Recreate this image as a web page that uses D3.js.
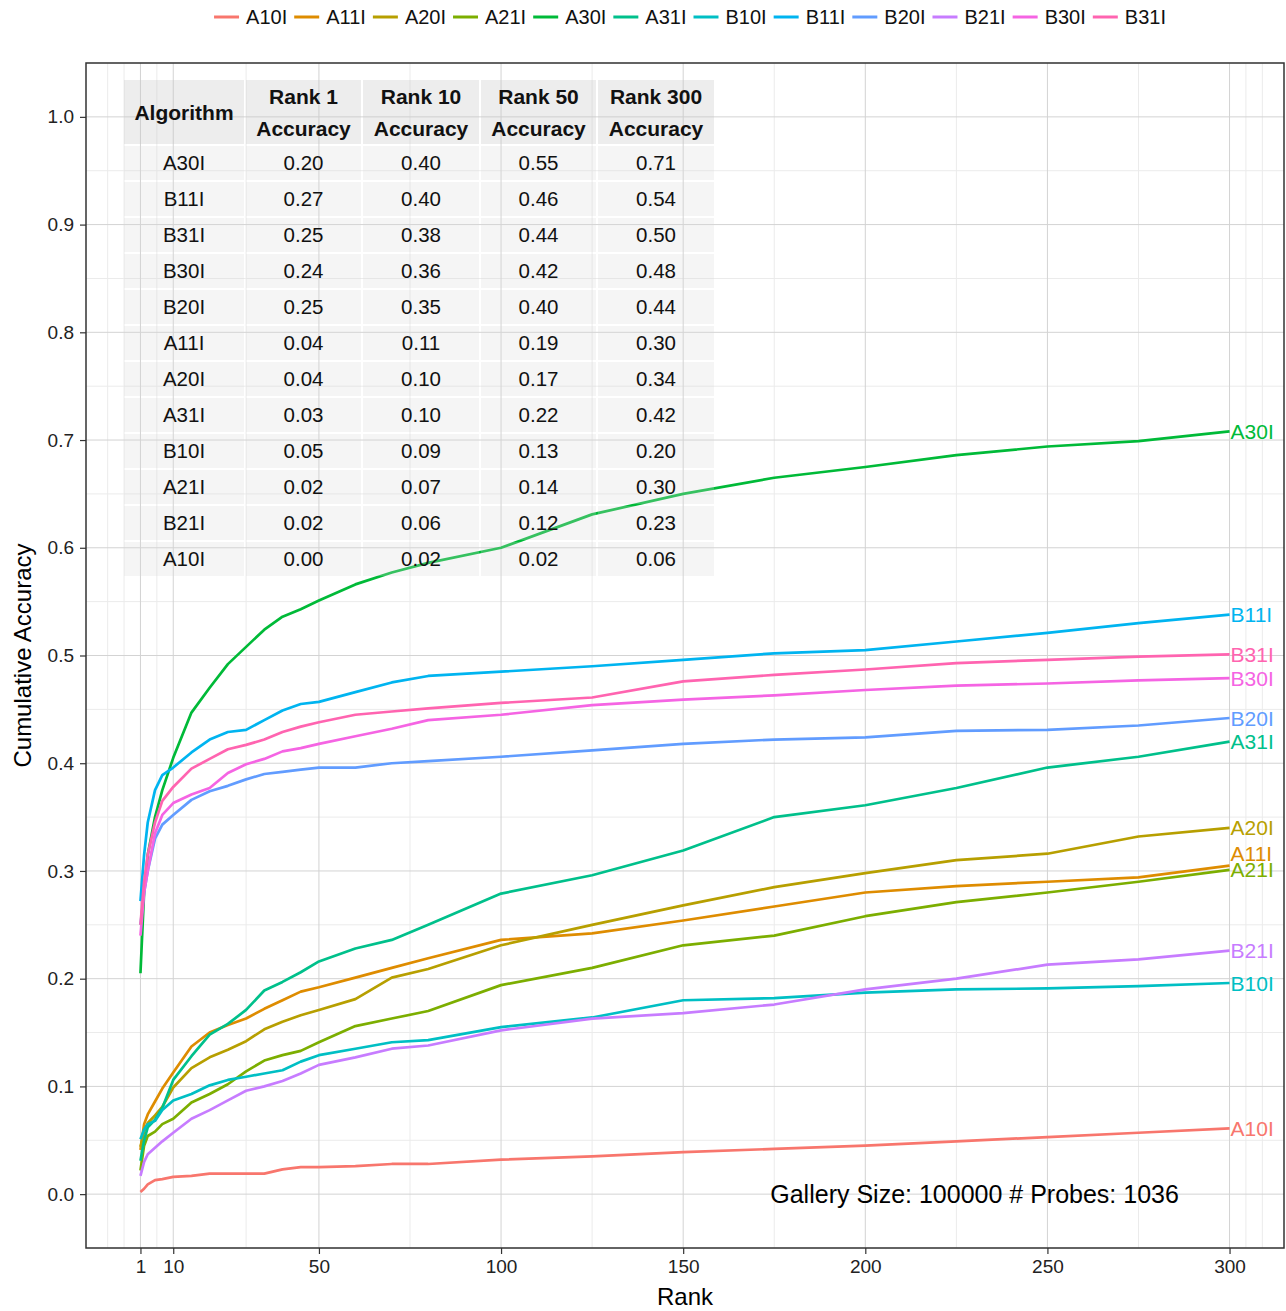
<!DOCTYPE html>
<html>
<head>
	<meta charset="UTF-8">
	<script src="https://d3js.org/d3.v7.min.js"></script>
	<title>Cumulative Accuracy</title>
	<style>
		body { margin: 0; background: #fff; }
		svg text { font-family: "Liberation Sans", Arial, Helvetica, sans-serif; }
	</style>
</head>
<body>
	<svg></svg>
	<script type="text/javascript">

		const ranks = [1, 2, 3, 5, 7, 10, 15, 20, 25, 30, 35, 40, 45, 50, 60, 70, 80, 100, 125, 150, 175, 200, 225, 250, 275, 300];

		const A10I = [0.002, 0.005, 0.009, 0.013, 0.014, 0.016, 0.017, 0.019, 0.019, 0.019, 0.019, 0.023, 0.025, 0.025, 0.026, 0.028, 0.028, 0.032, 0.035, 0.039, 0.042, 0.045, 0.049, 0.053, 0.057, 0.061];
		const A11I = [0.041, 0.065, 0.074, 0.086, 0.098, 0.113, 0.137, 0.150, 0.157, 0.163, 0.172, 0.180, 0.188, 0.192, 0.201, 0.210, 0.219, 0.236, 0.242, 0.254, 0.267, 0.280, 0.286, 0.290, 0.294, 0.305];
		const A20I = [0.044, 0.058, 0.066, 0.073, 0.081, 0.099, 0.117, 0.127, 0.134, 0.142, 0.153, 0.160, 0.166, 0.171, 0.181, 0.201, 0.209, 0.231, 0.250, 0.268, 0.285, 0.298, 0.310, 0.316, 0.332, 0.340];
		const A21I = [0.022, 0.045, 0.054, 0.058, 0.065, 0.070, 0.085, 0.093, 0.102, 0.114, 0.124, 0.129, 0.133, 0.141, 0.156, 0.163, 0.170, 0.194, 0.210, 0.231, 0.240, 0.258, 0.271, 0.280, 0.290, 0.301];
		const A30I = [0.205, 0.280, 0.315, 0.350, 0.375, 0.405, 0.447, 0.470, 0.492, 0.508, 0.524, 0.536, 0.543, 0.551, 0.566, 0.577, 0.586, 0.600, 0.631, 0.650, 0.665, 0.675, 0.686, 0.694, 0.699, 0.708];
		const A31I = [0.031, 0.050, 0.062, 0.069, 0.080, 0.106, 0.128, 0.148, 0.158, 0.171, 0.189, 0.197, 0.206, 0.216, 0.228, 0.236, 0.250, 0.279, 0.296, 0.319, 0.350, 0.361, 0.377, 0.396, 0.406, 0.420];
		const B10I = [0.051, 0.060, 0.065, 0.068, 0.078, 0.087, 0.093, 0.101, 0.106, 0.109, 0.112, 0.115, 0.123, 0.129, 0.135, 0.141, 0.143, 0.155, 0.164, 0.180, 0.182, 0.187, 0.190, 0.191, 0.193, 0.196];
		const B11I = [0.272, 0.315, 0.345, 0.375, 0.389, 0.396, 0.410, 0.422, 0.429, 0.431, 0.440, 0.449, 0.455, 0.457, 0.466, 0.475, 0.481, 0.485, 0.490, 0.496, 0.502, 0.505, 0.513, 0.521, 0.530, 0.538];
		const B20I = [0.250, 0.280, 0.300, 0.330, 0.343, 0.352, 0.366, 0.374, 0.379, 0.385, 0.390, 0.392, 0.394, 0.396, 0.396, 0.400, 0.402, 0.406, 0.412, 0.418, 0.422, 0.424, 0.430, 0.431, 0.435, 0.442];
		const B21I = [0.017, 0.030, 0.037, 0.043, 0.049, 0.057, 0.070, 0.078, 0.087, 0.096, 0.100, 0.105, 0.112, 0.120, 0.127, 0.135, 0.138, 0.152, 0.163, 0.168, 0.176, 0.190, 0.200, 0.213, 0.218, 0.226];
		const B30I = [0.240, 0.280, 0.300, 0.335, 0.352, 0.363, 0.371, 0.377, 0.391, 0.399, 0.404, 0.411, 0.414, 0.418, 0.425, 0.432, 0.440, 0.445, 0.454, 0.459, 0.463, 0.468, 0.472, 0.474, 0.477, 0.479];
		const B31I = [0.250, 0.290, 0.315, 0.345, 0.365, 0.378, 0.395, 0.404, 0.413, 0.417, 0.422, 0.429, 0.434, 0.438, 0.445, 0.448, 0.451, 0.456, 0.461, 0.476, 0.482, 0.487, 0.493, 0.496, 0.499, 0.501];

		const seriesNames = ["A10I", "A11I", "A20I", "A21I", "A30I", "A31I", "B10I", "B11I", "B20I", "B21I", "B30I", "B31I"];
		const seriesValues = [A10I, A11I, A20I, A21I, A30I, A31I, B10I, B11I, B20I, B21I, B30I, B31I];
		const colors = ["#F8766D", "#DE8C00", "#B79F00", "#7CAE00", "#00BA38", "#00C08B", "#00BFC4", "#00B4F0", "#619CFF", "#C77CFF", "#F564E3", "#FF64B0"];

		const xBreaks = [1, 10, 50, 100, 150, 200, 250, 300];
		const yBreaks = [0, 0.1, 0.2, 0.3, 0.4, 0.5, 0.6, 0.7, 0.8, 0.9, 1.0];

		// summary table
		const tableHeader = ["Algorithm", "Rank 1\nAccuracy", "Rank 10\nAccuracy", "Rank 50\nAccuracy", "Rank 300\nAccuracy"];
		const tableAlgos = ["A30I", "B11I", "B31I", "B30I", "B20I", "A11I", "A20I", "A31I", "B10I", "A21I", "B21I", "A10I"];
		const rank1Acc   = ["0.20", "0.27", "0.25", "0.24", "0.25", "0.04", "0.04", "0.03", "0.05", "0.02", "0.02", "0.00"];
		const rank10Acc  = ["0.40", "0.40", "0.38", "0.36", "0.35", "0.11", "0.10", "0.10", "0.09", "0.07", "0.06", "0.02"];
		const rank50Acc  = ["0.55", "0.46", "0.44", "0.42", "0.40", "0.19", "0.17", "0.22", "0.13", "0.14", "0.12", "0.02"];
		const rank300Acc = ["0.71", "0.54", "0.50", "0.48", "0.44", "0.30", "0.34", "0.42", "0.20", "0.30", "0.23", "0.06"];

		const annotation = "Gallery Size: 100000 # Probes: 1036";

		const width = 1286;
		const height = 1311;
		const margin = {top: 63, right: 2, bottom: 63, left: 86};

		const svg = d3.select("svg")
			.attr("width", width)
			.attr("height", height);

		const x = d3.scaleLinear()
			.domain([1 - 299 * 0.05, 300 + 299 * 0.05])
			.range([margin.left, width - margin.right]);

		const y = d3.scaleLinear()
			.domain([-0.05, 1.05])
			.range([height - margin.bottom, margin.top]);

		// ggplot style minor breaks: midpoints, plus one extra break each side
		const bd = xBreaks[1] - xBreaks[0];
		const ext = [xBreaks[0] - bd, ...xBreaks, xBreaks[xBreaks.length - 1] + bd];
		let xMinor = [];
		for (let i = 0; i < ext.length - 1; i++) {
			xMinor.push(ext[i], (ext[i] + ext[i + 1]) / 2);
		}
		xMinor.push(ext[ext.length - 1]);
		xMinor = xMinor.filter(v => !xBreaks.includes(v) && x(v) > margin.left && x(v) < width - margin.right);
		const yMinor = d3.range(-0.05, 1.06, 0.1).map(v => +v.toFixed(2));

		const grid = svg.append("g");
		grid.selectAll(".xminor").data(xMinor).join("line")
			.attr("x1", d => x(d)).attr("x2", d => x(d))
			.attr("y1", margin.top).attr("y2", height - margin.bottom)
			.attr("stroke", "#ebebeb").attr("stroke-width", 1);
		grid.selectAll(".yminor").data(yMinor).join("line")
			.attr("x1", margin.left).attr("x2", width - margin.right)
			.attr("y1", d => y(d)).attr("y2", d => y(d))
			.attr("stroke", "#ebebeb").attr("stroke-width", 1);
		grid.selectAll(".xmajor").data(xBreaks).join("line")
			.attr("x1", d => x(d)).attr("x2", d => x(d))
			.attr("y1", margin.top).attr("y2", height - margin.bottom)
			.attr("stroke", "#d3d3d3").attr("stroke-width", 1);
		grid.selectAll(".ymajor").data(yBreaks).join("line")
			.attr("x1", margin.left).attr("x2", width - margin.right)
			.attr("y1", d => y(d)).attr("y2", d => y(d))
			.attr("stroke", "#d3d3d3").attr("stroke-width", 1);

		const series = seriesNames.map((name, i) => ({
			name: name,
			color: colors[i],
			points: ranks.map((r, j) => ({rank: r, value: seriesValues[i][j]}))
		}));

		const line = d3.line()
			.x(d => x(d.rank))
			.y(d => y(d.value));

		svg.append("g")
			.selectAll("path")
			.data(series)
			.join("path")
				.attr("d", d => line(d.points))
				.attr("fill", "none")
				.attr("stroke", d => d.color)
				.attr("stroke-width", 2.7)
				.attr("stroke-linejoin", "round");

		// table drawn over the lines, semi transparent
		const tableLeft = margin.left + 37;
		const tableTop = margin.top + 16;
		const colWidths = [122, 117, 118, 117, 118];
		const headH = 66;
		const rowH = 36;
		const colX = d3.cumsum([0, ...colWidths]).map(v => tableLeft + v);
		const rows = tableAlgos.map((a, i) => [a, rank1Acc[i], rank10Acc[i], rank50Acc[i], rank300Acc[i]]);

		const table = svg.append("g");
		tableHeader.forEach((h, c) => {
			table.append("rect")
				.attr("x", colX[c] + 1).attr("y", tableTop + 1)
				.attr("width", colWidths[c] - 2).attr("height", headH - 2)
				.attr("fill", "rgba(200,200,200,0.32)");
			const parts = h.split("\n");
			parts.forEach((p, k) => {
				table.append("text")
					.attr("x", colX[c] + colWidths[c] / 2)
					.attr("y", tableTop + headH / 2 + (k - (parts.length - 1) / 2) * 32)
					.attr("dy", "0.36em")
					.attr("text-anchor", "middle")
					.attr("font-size", 21)
					.attr("font-weight", "bold")
					.attr("fill", "#111")
					.text(p);
			});
		});
		rows.forEach((row, r) => {
			row.forEach((cell, c) => {
				const top = tableTop + headH + r * rowH;
				table.append("rect")
					.attr("x", colX[c] + 1).attr("y", top + 1)
					.attr("width", colWidths[c] - 2).attr("height", rowH - 2)
					.attr("fill", "rgba(215,215,215,0.25)");
				table.append("text")
					.attr("x", colX[c] + colWidths[c] / 2)
					.attr("y", top + rowH / 2)
					.attr("dy", "0.36em")
					.attr("text-anchor", "middle")
					.attr("font-size", 20.5)
					.attr("fill", "#111")
					.text(cell);
			});
		});

		// end labels, pushed apart a little when they collide
		const labels = series.map(s => ({name: s.name, color: s.color, y: y(s.points[s.points.length - 1].value)}));
		const sorted = labels.slice().sort((a, b) => b.y - a.y);
		for (let i = 1; i < sorted.length; i++) {
			if (sorted[i - 1].y - sorted[i].y < 16) sorted[i].y = sorted[i - 1].y - 16;
		}
		svg.append("g")
			.selectAll("text")
			.data(labels)
			.join("text")
				.attr("x", x(300) + 1)
				.attr("y", d => d.y)
				.attr("dy", "0.36em")
				.attr("font-size", 21)
				.attr("fill", d => d.color)
				.text(d => d.name);

		svg.append("text")
			.attr("x", x(230))
			.attr("y", y(0))
			.attr("dy", "0.36em")
			.attr("text-anchor", "middle")
			.attr("font-size", 25)
			.attr("fill", "#000")
			.text(annotation);

		// panel border
		svg.append("rect")
			.attr("x", margin.left).attr("y", margin.top)
			.attr("width", width - margin.left - margin.right)
			.attr("height", height - margin.top - margin.bottom)
			.attr("fill", "none")
			.attr("stroke", "#333")
			.attr("stroke-width", 1.5);

		const xAxis = g => g
			.attr("transform", `translate(0,${height - margin.bottom})`)
			.call(d3.axisBottom(x).tickValues(xBreaks).tickSize(6).tickPadding(6).tickFormat(d3.format("d")))
			.call(g => g.select(".domain").remove())
			.call(g => g.selectAll(".tick line").attr("stroke", "#333").attr("stroke-width", 1.2))
			.call(g => g.selectAll(".tick text").attr("font-size", 19).attr("fill", "#222")
				.attr("font-family", "Liberation Sans, Arial, sans-serif"));

		const yAxis = g => g
			.attr("transform", `translate(${margin.left},0)`)
			.call(d3.axisLeft(y).tickValues(yBreaks).tickSize(6).tickPadding(6).tickFormat(d3.format(".1f")))
			.call(g => g.select(".domain").remove())
			.call(g => g.selectAll(".tick line").attr("stroke", "#333").attr("stroke-width", 1.2))
			.call(g => g.selectAll(".tick text").attr("font-size", 19).attr("fill", "#222")
				.attr("font-family", "Liberation Sans, Arial, sans-serif"));

		svg.append("g").call(xAxis);
		svg.append("g").call(yAxis);

		svg.append("text")
			.attr("x", (margin.left + width - margin.right) / 2)
			.attr("y", 1296)
			.attr("dy", "0.36em")
			.attr("text-anchor", "middle")
			.attr("font-size", 24)
			.text("Rank");

		svg.append("text")
			.attr("transform", `translate(22,${(margin.top + height - margin.bottom) / 2}) rotate(-90)`)
			.attr("dy", "0.36em")
			.attr("text-anchor", "middle")
			.attr("font-size", 24)
			.text("Cumulative Accuracy");

		// legend on top
		const legend = svg.append("g");
		const items = legend.selectAll("g")
			.data(series)
			.join("g");
		items.append("line")
			.attr("x1", 0).attr("x2", 25)
			.attr("y1", 17).attr("y2", 17)
			.attr("stroke", d => d.color)
			.attr("stroke-width", 3);
		items.append("text")
			.attr("x", 32)
			.attr("y", 17)
			.attr("dy", "0.36em")
			.attr("font-size", 20)
			.attr("fill", "#111")
			.text(d => d.name);
		let offset = 0;
		const offsets = [];
		items.each(function() {
			const w = 32 + d3.select(this).select("text").node().getComputedTextLength() + 7;
			offsets.push(offset);
			offset += w;
		});
		const legendStart = 690 - (offset - 7) / 2;
		items.attr("transform", (d, i) => `translate(${legendStart + offsets[i]},0)`);

	</script>
</body>
</html>
